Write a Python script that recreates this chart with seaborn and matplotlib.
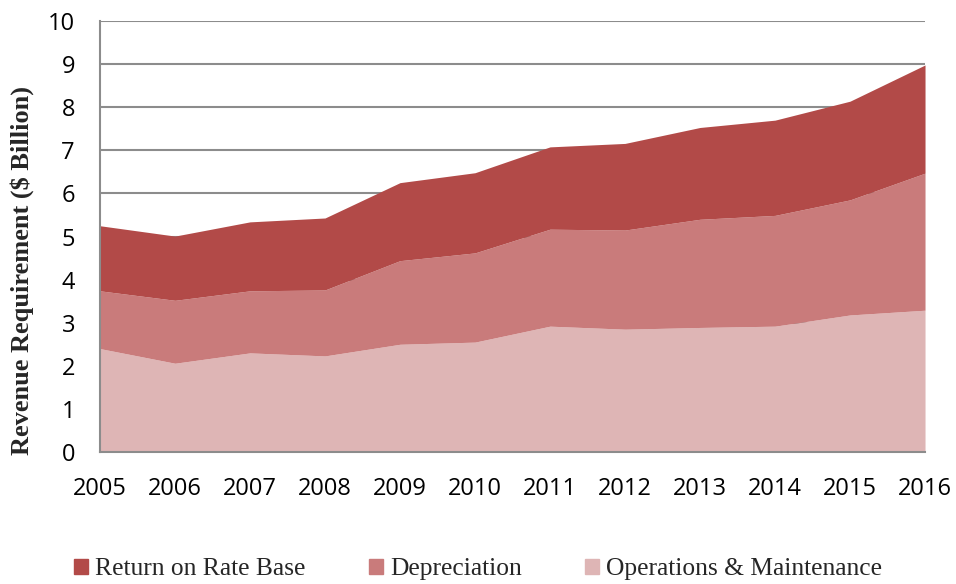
import numpy as np
import pandas as pd
import seaborn as sns
import matplotlib.pyplot as plt
from matplotlib.patches import Patch

years = [2005, 2006, 2007, 2008, 2009, 2010, 2011, 2012, 2013, 2014, 2015, 2016]
om = [2.40, 2.06, 2.30, 2.23, 2.50, 2.55, 2.92, 2.85, 2.89, 2.92, 3.18, 3.29]
dep_top = [3.74, 3.52, 3.74, 3.76, 4.44, 4.62, 5.17, 5.15, 5.40, 5.49, 5.85, 6.47]
total = [5.25, 5.01, 5.34, 5.43, 6.25, 6.48, 7.08, 7.16, 7.53, 7.70, 8.14, 8.98]

depreciation = [round(d - o, 2) for d, o in zip(dep_top, om)]
return_rb = [round(t - d, 2) for t, d in zip(total, dep_top)]

labels = ["Return on Rate Base", "Depreciation", "Operations & Maintenance"]
colors = ["#B24A48", "#C97B7B", "#DEB5B5"]

df = pd.DataFrame({"year": years, "om": om, "dep": depreciation, "ret": return_rb})

sns.set_style("white")
plt.rcParams["font.family"] = ["Open Sans", "DejaVu Sans"]

fig = plt.figure(figsize=(9.56, 5.84), dpi=100)
ax = fig.add_axes([0.1046, 0.226, 0.863, 0.738])

ax.stackplot(df["year"], df["om"], df["dep"], df["ret"],
             colors=[colors[2], colors[1], colors[0]], linewidth=0, zorder=2)

ax.set_xlim(2005, 2016)
ax.set_ylim(0, 10)
ax.set_xticks(years)
ax.set_yticks(range(0, 11))
ax.yaxis.grid(True, color="#8C8C8C", linewidth=1.5, zorder=0)
ax.set_axisbelow(True)
for s in ["top", "right"]:
    ax.spines[s].set_visible(False)
for s in ["left", "bottom"]:
    ax.spines[s].set_color("#8C8C8C")
    ax.spines[s].set_linewidth(1.5)
ax.tick_params(axis="both", length=0, labelsize=17, colors="black")
ax.tick_params(axis="x", pad=18)
ax.tick_params(axis="y", pad=18)

ax.set_ylabel("Revenue Requirement ($ Billion)", fontsize=19, fontweight="bold",
              family=["Liberation Serif"])
ax.yaxis.set_label_coords(-0.08, 0.42)

# legend at the bottom
handles = [Patch(color=c) for c in colors]
fig.legend(handles, labels, loc="center", bbox_to_anchor=(0.5, 0.025), ncol=3,
           frameon=False, prop={"family": "Liberation Serif", "size": 18.4},
           handlelength=0.55, handleheight=0.55, handletextpad=0.27,
           columnspacing=2.5, borderpad=0)

fig.savefig("out.png", dpi=100)
